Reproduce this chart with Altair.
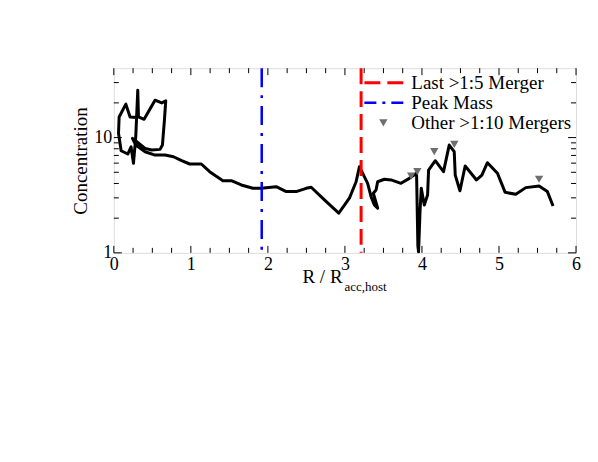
import altair as alt
import pandas as pd

# ---- data ----
curve_x = [0.298, 0.211, 0.156, 0.069, 0.061, 0.095, 0.181, 0.224, 0.255, 0.285,
           0.311, 0.320, 0.393, 0.535, 0.622, 0.674, 0.657, 0.631, 0.600, 0.492,
           0.406, 0.298, 0.242, 0.285, 0.406, 0.535, 0.665, 0.774, 0.881, 0.985,
           1.136, 1.244, 1.416, 1.525, 1.655, 1.805, 1.914, 2.108, 2.238, 2.367,
           2.497, 2.562, 2.734, 2.920, 3.058, 3.145, 3.188, 3.295, 3.339, 3.382,
           3.425, 3.369, 3.404, 3.425, 3.512, 3.599, 3.728, 3.836, 3.930, 3.947,
           3.956, 3.975, 3.991, 4.030, 4.073, 4.086, 4.173, 4.280, 4.354, 4.419,
           4.432, 4.493, 4.561, 4.708, 4.778, 4.850, 4.980, 5.080, 5.218, 5.348,
           5.520, 5.628, 5.702]
curve_y = [14.96, 15.1, 19.5, 15.1, 10.9, 7.69, 7.2, 8.3, 5.98, 10.2,
           25.8, 15.1, 14.4, 21.1, 20.0, 20.8, 14.2, 8.61, 7.9, 7.8,
           8.06, 9.2, 9.84, 8.61, 7.54, 7.05, 7.05, 6.82, 6.30, 5.90,
           5.90, 5.06, 4.23, 4.23, 3.88, 3.63, 3.63, 3.75, 3.40, 3.40,
           3.63, 3.71, 2.88, 2.21, 2.98, 4.14, 5.59, 4.01, 3.07, 2.60,
           2.44, 3.29, 3.51, 4.14, 4.35, 4.29, 4.01, 4.43, 4.90, 1.15,
           1.02, 2.30, 3.63, 2.60, 3.18, 5.23, 6.30, 5.06, 8.61, 7.54,
           4.73, 3.46, 5.67, 4.29, 4.73, 6.05, 4.90, 3.35, 3.22, 3.68,
           3.80, 3.40, 2.55]
merger_x = [3.86, 3.94, 4.16, 4.42, 5.52]
merger_y = [4.64, 5.06, 7.54, 8.73, 4.35]
peak_mass_x = [1.92]
last_merger_x = [3.21]
legend_labels = ["Last >1:5 Merger", "Peak Mass", "Other >1:10 Mergers"]
x_major = [0, 1, 2, 3, 4, 5, 6]
x_minor = [i * 0.25 for i in range(25) if i % 4 != 0]
y_major = [1, 10]
y_minor = [2, 3, 4, 5, 6, 7, 8, 9, 20, 30]

W, H = 463, 185
FONT = "Liberation Serif"

xs = alt.Scale(domain=[0, 6], nice=False, zero=False)
ys = alt.Scale(type="log", domain=[1, 40], nice=False)

df_curve = pd.DataFrame({"x": curve_x, "y": curve_y, "i": range(len(curve_x))})
df_m = pd.DataFrame({"x": merger_x, "y": merger_y})

line = alt.Chart(df_curve).mark_line(color="black", strokeWidth=3, strokeJoin="round").encode(
    x=alt.X("x:Q", scale=xs, axis=alt.Axis(values=x_major, format="d", labelFont=FONT,
            labelFontSize=18, labelColor="black", ticks=False, domain=False, grid=False,
            title=None, labelPadding=3, labelFlush=False)),
    y=alt.Y("y:Q", scale=ys, axis=alt.Axis(values=y_major, format="d", labelFont=FONT,
            labelFontSize=18, labelColor="black", ticks=False, domain=False, grid=False,
            title="Concentration", titleFont=FONT, titleFontSize=19, titleFontWeight="normal",
            titleColor="black", titlePadding=3, labelPadding=2, labelFlush=False)),
    order="i:Q",
)

pm = alt.Chart(pd.DataFrame({"x": peak_mass_x})).mark_rule(
    color="#0000ff", strokeWidth=2.5, strokeDash=[19, 8, 3, 8]).encode(x=alt.X("x:Q", scale=xs))
lm = alt.Chart(pd.DataFrame({"x": last_merger_x})).mark_rule(
    color="#ff0000", strokeWidth=3, strokeDash=[16, 7]).encode(x=alt.X("x:Q", scale=xs))

pts = alt.Chart(df_m).mark_point(shape="triangle-down", filled=True, color="#6e6e6e",
                                 size=70, opacity=1).encode(
    x=alt.X("x:Q", scale=xs), y=alt.Y("y:Q", scale=ys))

def xticks(vals, ln):
    d = pd.DataFrame({"v": vals})
    b = alt.Chart(d).mark_rule(color="black", strokeWidth=1).encode(
        x=alt.X("v:Q", scale=xs), y=alt.value(H), y2=alt.value(H - ln))
    t = alt.Chart(d).mark_rule(color="black", strokeWidth=1).encode(
        x=alt.X("v:Q", scale=xs), y=alt.value(0), y2=alt.value(ln))
    return b + t

def yticks(vals, ln):
    d = pd.DataFrame({"v": vals})
    l = alt.Chart(d).mark_rule(color="black", strokeWidth=1).encode(
        y=alt.Y("v:Q", scale=ys), x=alt.value(0), x2=alt.value(ln))
    r = alt.Chart(d).mark_rule(color="black", strokeWidth=1).encode(
        y=alt.Y("v:Q", scale=ys), x=alt.value(W), x2=alt.value(W - ln))
    return l + r

ticks = xticks(x_major, 7) + xticks(x_minor, 5) + yticks(y_major, 8) + yticks(y_minor, 5)

# legend
leg_df = pd.DataFrame({"t": legend_labels, "yy": [14.7, 34.7, 54.7]})
leg_text = alt.Chart(leg_df).mark_text(font=FONT, fontSize=19, align="left", baseline="middle",
                                       color="black").encode(
    text="t:N", x=alt.value(298), y=alt.Y("yy:Q", scale=None))
leg_red = alt.Chart(pd.DataFrame({"t": legend_labels[:1]})).mark_rule(
    color="#ff0000", strokeWidth=3, strokeDash=[16, 7]).encode(
    x=alt.value(251), x2=alt.value(290), y=alt.value(14.7))
leg_blue = alt.Chart(pd.DataFrame({"t": legend_labels[1:2]})).mark_rule(
    color="#0000ff", strokeWidth=2.5, strokeDash=[12, 6, 3, 6]).encode(
    x=alt.value(251), x2=alt.value(290), y=alt.value(34.7))
leg_tri = alt.Chart(pd.DataFrame({"t": legend_labels[2:]})).mark_point(
    shape="triangle-down", filled=True, color="#6e6e6e", size=70, opacity=1).encode(
    x=alt.value(270), y=alt.value(54.7))

# x title with subscript
xt_main = alt.Chart(pd.DataFrame({"t": ["R / R"]})).mark_text(
    font=FONT, fontSize=19, align="left", baseline="alphabetic", color="black").encode(
    text="t:N", x=alt.value(189), y=alt.value(215))
xt_sub = alt.Chart(pd.DataFrame({"t": ["acc,host"]})).mark_text(
    font=FONT, fontSize=13, align="left", baseline="alphabetic", color="black").encode(
    text="t:N", x=alt.value(231), y=alt.value(223))

chart = alt.layer(line, pm, lm, pts, ticks, leg_red, leg_blue, leg_tri, leg_text,
                  xt_main, xt_sub).properties(
    width=W, height=H,
    autosize=alt.AutoSizeParams(type="none"),
    padding={"left": 106, "top": 60, "right": 14, "bottom": 80},
).configure_view(stroke="black", strokeWidth=1.2).configure(background="white")

chart.save("out.html", embed_options={"renderer": "svg", "actions": False})
